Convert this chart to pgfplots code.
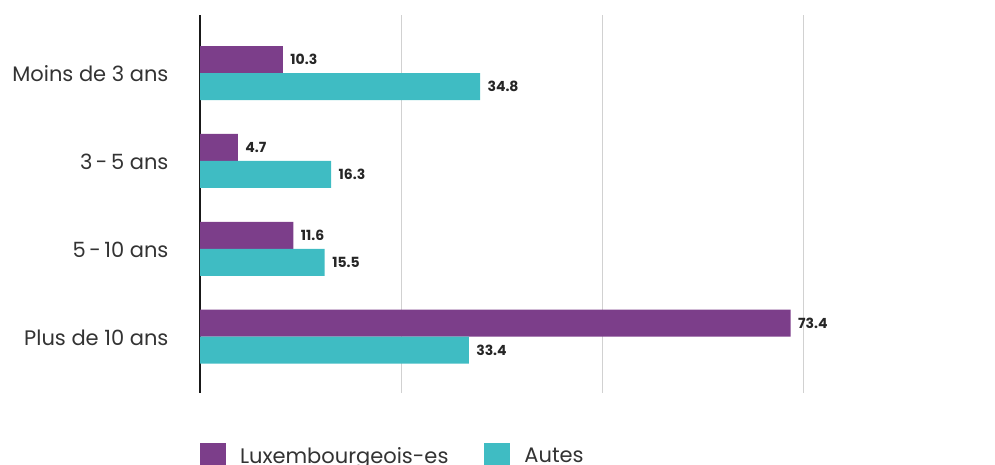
\documentclass[border=0pt]{standalone}
\usepackage{pgfplots}
\pgfplotsset{compat=1.18}
\usepackage{fontspec}
\setmainfont{Poppins}
\definecolor{purp}{HTML}{7C3E8A}
\definecolor{teal2}{HTML}{3FBCC3}
\begin{document}
\begin{tikzpicture}[x=1pt,y=1pt]
\useasboundingbox (0,0) rectangle (995,-465);
\begin{axis}[
 at={(200pt,-393pt)}, anchor=south west,
 scale only axis, width=795pt, height=378pt,
 xmin=0, xmax=98.8, ymin=-0.66, ymax=3.64, y dir=reverse,
 xbar, bar width=27pt,
 axis line style={draw=none},
 xtick={25,50,75}, xticklabels={},
 extra x ticks={0}, extra x tick labels={},
 extra x tick style={major grid style={black!90, line width=1.2pt}},
 xmajorgrids, major grid style={black!18, line width=1.2pt},
 ytick={0,1,2,3}, yticklabels={Moins de 3 ans, 3\,-\,5 ans, 5\,-\,10 ans, Plus de 10 ans},
 major tick length=0,
 yticklabel style={font=\fontsize{21}{23}\selectfont, text=black!80, xshift=-28pt, yshift=-1pt},
 nodes near coords,
 /pgf/number format/.cd, fixed, precision=1, fixed zerofill, assume math mode=true,
 /pgfplots/.cd,
 nodes near coords style={font=\bfseries\fontsize{14}{16}\selectfont, text=black!85, xshift=4pt},
 legend style={at={(0,-0.133)}, anchor=north west, draw=none, legend columns=2,
   inner sep=0pt, outer sep=0pt,
   font=\fontsize{21}{23}\selectfont, text=black!80,
   /tikz/every odd column/.append style={column sep=12pt},
   /tikz/every even column/.append style={column sep=34pt}},
 legend cell align=left,
 legend image code/.code={\fill[#1] (0pt,-13pt) rectangle (26pt,13pt);},
]
\addplot[fill=purp, draw=none, bar shift=13.5pt] coordinates {(10.3,0) (4.7,1) (11.6,2) (73.4,3)};
\addplot[fill=teal2, draw=none, bar shift=-13.5pt] coordinates {(34.8,0) (16.3,1) (15.5,2) (33.4,3)};
\legend{Luxembourgeois-es, Autes}
\end{axis}
\end{tikzpicture}
\end{document}
